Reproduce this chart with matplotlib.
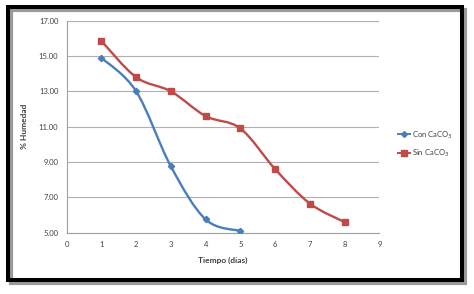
import numpy as np
import matplotlib
matplotlib.use("Agg")
import matplotlib.pyplot as plt
from matplotlib.path import Path
from matplotlib.patches import PathPatch, Rectangle
from matplotlib.lines import Line2D

plt.rcParams['font.family'] = ['Lato', 'DejaVu Sans']

dias_con = [1, 2, 3, 4, 5]
hum_con = [14.9, 13.0, 8.75, 5.75, 5.1]
dias_sin = [1, 2, 3, 4, 5, 6, 7, 8]
hum_sin = [15.85, 13.8, 13.0, 11.6, 10.9, 8.6, 6.65, 5.6]
yticks = [5, 7, 9, 11, 13, 15, 17]
xticks = list(range(0, 10))

azul = '#4a7ebb'
rojo = '#be4b48'


def curva(ax, xs, ys, color):
    # linea suavizada tipo Excel (bezier catmull-rom)
    p = np.column_stack([xs, ys]).astype(float)
    n = len(p)
    verts = [p[0]]
    codes = [Path.MOVETO]
    for i in range(n - 1):
        p0 = p[i - 1] if i > 0 else p[i]
        p3 = p[i + 2] if i + 2 < n else p[i + 1]
        c1 = p[i] + (p[i + 1] - p0) / 6
        c2 = p[i + 1] - (p3 - p[i]) / 6
        verts += [c1, c2, p[i + 1]]
        codes += [Path.CURVE4] * 3
    ax.add_patch(PathPatch(Path(verts, codes), fill=False, edgecolor=color,
                           lw=1.7, zorder=3))


fig = plt.figure(figsize=(4.74, 2.94), dpi=100)
ax = fig.add_axes([0.1407, 0.2085, 0.6596, 0.7211])

curva(ax, dias_con, hum_con, azul)
curva(ax, dias_sin, hum_sin, rojo)
ax.plot(dias_con, hum_con, ls='none', marker='D', ms=3.2, color=azul, zorder=4)
ax.plot(dias_sin, hum_sin, ls='none', marker='s', ms=4.8, color=rojo, zorder=4)

ax.set_xlim(0, 9)
ax.set_ylim(5, 17)
ax.set_xticks(xticks)
ax.set_yticks(yticks)
ax.set_yticklabels(['%.2f' % v for v in yticks])
ax.tick_params(length=0, labelsize=5.5, colors='#404040', pad=6)
ax.grid(axis='y', color='#b0b0b0', lw=0.8)
ax.set_axisbelow(True)
for s in ['top', 'right']:
    ax.spines[s].set_visible(False)
for s in ['left', 'bottom']:
    ax.spines[s].set_color('#a0a0a0')
    ax.spines[s].set_linewidth(0.8)

ax.set_xlabel('Tiempo (dias)', fontsize=6, fontweight='bold', color='#404040', labelpad=6)
ax.set_ylabel('% Humedad', fontsize=6, fontweight='bold', color='#404040', labelpad=8)

h1 = Line2D([], [], color=azul, marker='D', ms=3, lw=1.4)
h2 = Line2D([], [], color=rojo, marker='s', ms=4.5, lw=1.4)
fig.legend([h1, h2], ['Con CaCO$_3$', 'Sin CaCO$_3$'], loc='center left',
           bbox_to_anchor=(0.825, 0.51), frameon=False, fontsize=5.5,
           handlelength=1.6, handletextpad=0.2, labelspacing=0.9,
           labelcolor='#404040')

# marco negro con sombra
W, H = 474.0, 294.0
x0, x1 = 8 / W, 462 / W
y0, y1 = 1 - 280 / H, 1 - 7 / H
dx, dy = 3 / W, 3 / H
fig.patches.append(Rectangle((x0 + dx, y0 - dy), x1 - x0, y1 - y0, transform=fig.transFigure,
                             fill=False, edgecolor='#9a9a9a', lw=3, zorder=0))
fig.patches.append(Rectangle((x0, y0), x1 - x0, y1 - y0, transform=fig.transFigure,
                             fill=False, edgecolor='black', lw=2.9, zorder=1))

fig.savefig('out.png', dpi=100)
